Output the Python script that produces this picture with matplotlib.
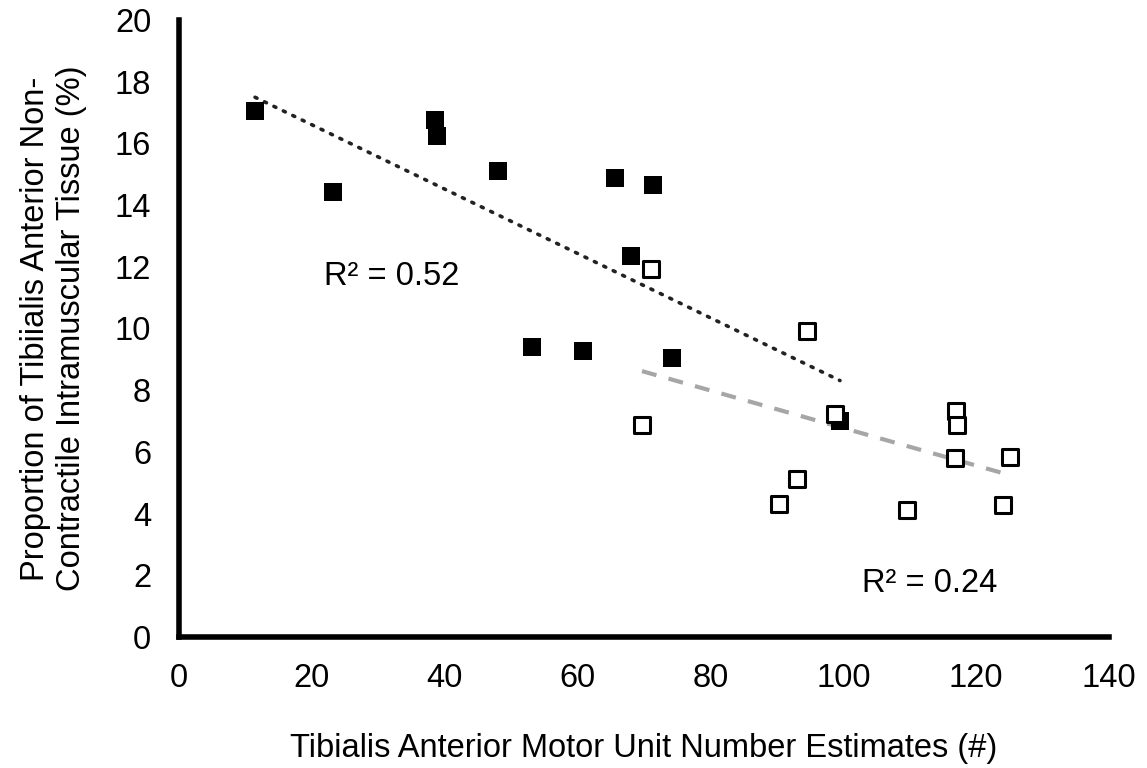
import matplotlib
matplotlib.use("Agg")
import matplotlib.pyplot as plt
import numpy as np

plt.rcParams['font.family'] = ['Liberation Sans', 'DejaVu Sans']

# Filled squares (group 1)
x_filled = [11.45, 23.2, 38.6, 38.9, 48.0, 65.6, 71.3, 68.0, 53.1, 60.8, 74.2, 99.5]
y_filled = [17.05, 14.43, 16.76, 16.24, 15.11, 14.89, 14.66, 12.35, 9.40, 9.26, 9.05, 7.01]

# Open squares (group 2)
x_open = [71.1, 94.6, 69.7, 98.8, 117.0, 117.1, 116.8, 125.1, 93.1, 90.3, 109.6, 124.1]
y_open = [11.94, 9.93, 6.86, 7.24, 7.34, 6.86, 5.79, 5.84, 5.12, 4.32, 4.12, 4.27]

r2_filled = "R² = 0.52"
r2_open = "R² = 0.24"

x_ticks = [0, 20, 40, 60, 80, 100, 120, 140]
y_ticks = [0, 2, 4, 6, 8, 10, 12, 14, 16, 18, 20]

FS = 23.5

fig = plt.figure(figsize=(11.47, 7.68), dpi=100)
ax = fig.add_axes([179/1147, 1 - 637/768, (1109-179)/1147, (637-20)/768])

# trend lines
xf = np.array(x_filled); yf = np.array(y_filled)
pf = np.polyfit(xf, yf, 1)
xs = np.array([xf.min(), xf.max()])
ax.plot(xs, np.polyval(pf, xs), linestyle=(0, (0.6, 2.3)), color='#222222', lw=2.6,
        dash_capstyle='round', zorder=2)

xo = np.array(x_open); yo = np.array(y_open)
po = np.polyfit(xo, yo, 1)
xs2 = np.array([xo.min(), xo.max()])
ax.plot(xs2, np.polyval(po, xs2), linestyle=(0, (3.6, 3.0)), color='#a6a6a6', lw=3.0, zorder=2)

ax.scatter(x_filled, y_filled, marker='s', s=185, c='black', edgecolors='black',
           linewidths=0, zorder=3)
ax.scatter(x_open, y_open, marker='s', s=130, facecolors='white', edgecolors='black',
           linewidths=2.2, zorder=4)

ax.text(21.8, 11.67, r2_filled, fontsize=FS, va='center', ha='left')
ax.text(102.8, 1.75, r2_open, fontsize=FS, va='center', ha='left')

ax.set_xlim(0, 140)
ax.set_ylim(0, 20)
ax.set_xticks(x_ticks)
ax.set_yticks(y_ticks)
ax.tick_params(axis='both', length=0, labelsize=FS)
ax.tick_params(axis='x', pad=19)
ax.tick_params(axis='y', pad=20)

for s in ['top', 'right']:
    ax.spines[s].set_visible(False)
for s in ['left', 'bottom']:
    ax.spines[s].set_linewidth(4)
    ax.spines[s].set_color('black')

ax.set_xlabel("Tibialis Anterior Motor Unit Number Estimates (#)", fontsize=FS, labelpad=28)
ax.set_ylabel("Proportion of Tibiialis Anterior Non-\nContractile Intramuscular Tissue (%)",
              fontsize=FS, labelpad=20, linespacing=1.2)

fig.savefig("out.png", dpi=100)
